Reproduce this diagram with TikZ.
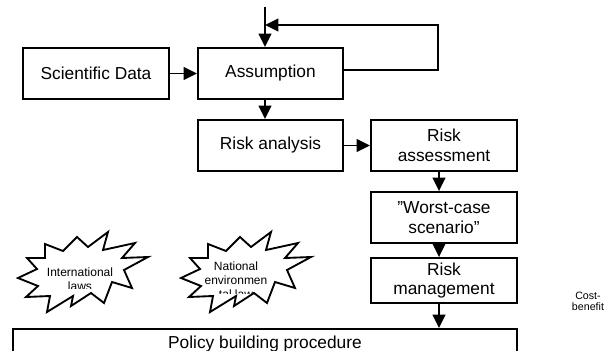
\documentclass[tikz,border=0pt]{standalone}
\usepackage{fontspec}
\setmainfont{Liberation Sans}
\usetikzlibrary{arrows.meta}
\newcommand\burstshape{(108,232) -- (103,250) -- (135,243) -- (122,258) -- (148,257) -- (124,270) -- (132,288) -- (112,282) -- (104,303) -- (91,293) -- (71,306) -- (73,296) -- (47,312) -- (50,296) -- (26,297) -- (38,286) -- (18,278) -- (37,269) -- (27,258) -- (45,258) -- (45,244) -- (63,251) -- (77,237) -- (88,247) -- cycle}
\begin{document}
\begin{tikzpicture}[x=0.75pt,y=-0.75pt,
  line width=1.4pt, line join=miter,
  box/.style={draw,minimum width=109.5pt,minimum height=38.25pt,align=center,
    font=\fontsize{13}{14.6}\selectfont,inner sep=0pt},
  arr/.style={-{Triangle[length=10pt,width=9.5pt]}},
  lbl/.style={font=\fontsize{9}{10.5}\selectfont,align=center,inner sep=0pt},
  small/.style={font=\fontsize{8}{8.3}\selectfont,align=center,inner sep=0pt}]
\useasboundingbox (0,0) rectangle (613,350);
\clip (0,0) rectangle (613,350);
% boxes
\node[box] (sd) at (96,73.5) {Scientific Data};
\node[box,minimum width=108.75pt] (asm) at (270.5,73.5) {Assumption};
\node[box,minimum width=108.75pt] (ra) at (270.5,145.5) {Risk analysis};
\node[box] (rass) at (444,145.5) {Risk\\assessment};
\node[box] (wc) at (444,217.5) {”Worst-case\\scenario”};
\node[box,minimum height=33.75pt] (rm) at (444,280.5) {Risk\\management};
\node[draw,anchor=north,minimum width=378pt,text height=9.3pt,text depth=20pt,
  inner ysep=5.6pt,inner xsep=0pt,font=\fontsize{13}{14.6}\selectfont] (pol) at (265,328) {Policy building procedure};
% helper coordinates
\coordinate (top) at (265,7);
\coordinate (fb) at (438,25);
\coordinate (rx) at (439,0);
% connectors
\draw[arr] (top) -- (top |- asm.north);
\draw[arr] ([yshift=2.6pt]asm.east) -| (fb) -- (top |- fb);
\draw[arr] (sd) -- (asm);
\draw[arr] (top |- asm.south) -- (top |- ra.north);
\draw[arr] (ra) -- (rass);
\draw[arr] (rx |- rass.south) -- (rx |- wc.north);
\draw[arr] (rx |- wc.south) -- (rx |- rm.north);
\draw[arr] (rx |- rm.south) -- (rx |- pol.north);
% starbursts
\fill[white] \burstshape;
\begin{scope}
  \clip (40,262) rectangle (125,288);
  \node[lbl] (intl) at (80,279) {International\\laws};
\end{scope}
\draw \burstshape;
\begin{scope}[shift={(163,0)}]
  \fill[white] \burstshape;
\end{scope}
\begin{scope}
  \clip (198,257) rectangle (272,293);
  \node[lbl] (natl) at (236,280) {National\\environmen\\tal law};
\end{scope}
\begin{scope}[shift={(163,0)}]
  \draw \burstshape;
\end{scope}
% cost-benefit
\begin{scope}
  \clip (560,285) rectangle (613,311);
  \node[small] (cb) at (588,301.5) {Cost-\\benefit};
\end{scope}
\end{tikzpicture}
\end{document}
